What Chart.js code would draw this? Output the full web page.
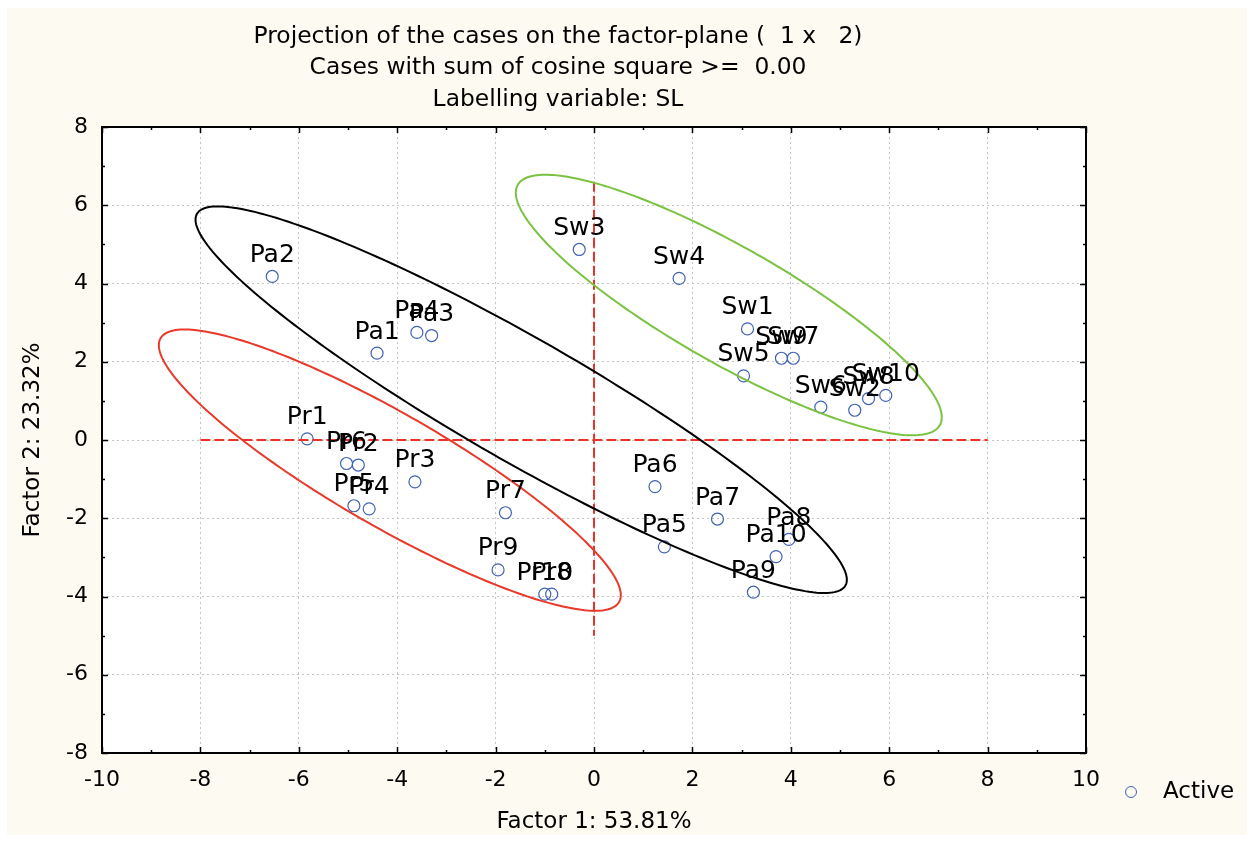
<!DOCTYPE html>
<html>
<head>
<meta charset="utf-8">
<script src="https://cdn.jsdelivr.net/npm/chart.js@4/dist/chart.umd.min.js"></script>
<style>
  html, body { margin: 0; padding: 0; background: #ffffff; }
  #wrap { width: 1252px; height: 841px; position: relative; }
</style>
</head>
<body>
<div id="wrap"><canvas id="chart" width="1252" height="841"></canvas></div>
<script>
const caseLabels = [
  "Pa1", "Pa2", "Pa3", "Pa4", "Pa5", "Pa6", "Pa7", "Pa8", "Pa9", "Pa10",
  "Pr1", "Pr2", "Pr3", "Pr4", "Pr5", "Pr6", "Pr7", "Pr8", "Pr9", "Pr10",
  "Sw1", "Sw2", "Sw3", "Sw4", "Sw5", "Sw6", "Sw7", "Sw8", "Sw9", "Sw10",
];
const factor1 = [
  -4.41, -6.54, -3.30, -3.60, 1.43, 1.24, 2.51, 3.96, 3.24, 3.70,
  -5.83, -4.79, -3.64, -4.57, -4.88, -5.03, -1.80, -0.86, -1.95, -1.00,
  3.12, 5.30, -0.30, 1.73, 3.04, 4.61, 4.05, 5.58, 3.81, 5.93,
];
const factor2 = [
  2.22, 4.18, 2.67, 2.75, -2.73, -1.19, -2.02, -2.54, -3.89, -2.98,
  0.03, -0.64, -1.07, -1.76, -1.68, -0.60, -1.86, -3.94, -3.32, -3.94,
  2.84, 0.76, 4.87, 4.13, 1.64, 0.84, 2.09, 1.06, 2.09, 1.14,
];

const titleLines = [
  "Projection of the cases on the factor-plane (  1 x   2)",
  "Cases with sum of cosine square >=  0.00",
  "Labelling variable: SL",
];
const xTitle = "Factor 1: 53.81%";
const yTitle = "Factor 2: 23.32%";
const legendLabel = "Active";

// dashed reference lines (x = 0 and y = 0)
const hLineX = [-8, 8];
const vLineY = [6.6, -5];

// group ellipses: centre, two conjugate half-axes (data units)
const ellipseCenters = [[-1.48, 1.03], [-4.15, -0.77], [2.74, 3.45]];
const ellipseAxisU = [[6.59, -4.75], [4.66, -3.37], [4.29, -3.07]];
const ellipseAxisV = [[-0.62, -1.36], [-0.57, -1.25], [-0.58, -1.29]];
const ellipseColors = ["#000000", "#e8392b", "#7cc242"];

const FONT = "'DejaVu Sans', 'Liberation Sans', Arial, sans-serif";
const pointColor = "#4262b4";

const points = caseLabels.map((c, i) => ({ x: factor1[i], y: factor2[i] }));

const decorPlugin = {
  id: "decor",
  beforeDraw(chart) {
    const ctx = chart.ctx;
    const a = chart.chartArea;
    ctx.save();
    ctx.fillStyle = "#fdfaf2";
    ctx.fillRect(7, 8, chart.width - 12, chart.height - 14);
    ctx.fillStyle = "#ffffff";
    ctx.fillRect(a.left, a.top, a.right - a.left, a.bottom - a.top);
    ctx.restore();
  },
  afterDatasetsDraw(chart) {
    const ctx = chart.ctx;
    const a = chart.chartArea;
    const xs = chart.scales.x;
    const ys = chart.scales.y;

    ctx.save();
    ctx.beginPath();
    ctx.rect(a.left, a.top, a.right - a.left, a.bottom - a.top);
    ctx.clip();
    ctx.lineWidth = 2;
    ellipseCenters.forEach((c, k) => {
      const u = ellipseAxisU[k];
      const v = ellipseAxisV[k];
      ctx.strokeStyle = ellipseColors[k];
      ctx.beginPath();
      for (let i = 0; i <= 240; i++) {
        const t = (i / 240) * Math.PI * 2;
        const px = xs.getPixelForValue(c[0] + u[0] * Math.cos(t) + v[0] * Math.sin(t));
        const py = ys.getPixelForValue(c[1] + u[1] * Math.cos(t) + v[1] * Math.sin(t));
        if (i === 0) ctx.moveTo(px, py);
        else ctx.lineTo(px, py);
      }
      ctx.closePath();
      ctx.stroke();
    });
    ctx.restore();

    // case labels
    const meta = chart.getDatasetMeta(2);
    ctx.save();
    ctx.font = "25px " + FONT;
    ctx.fillStyle = "#000000";
    ctx.textAlign = "center";
    ctx.textBaseline = "middle";
    meta.data.forEach((el, i) => {
      ctx.fillText(caseLabels[i], el.x, el.y - 21);
    });
    ctx.restore();
  },
  afterDraw(chart) {
    const ctx = chart.ctx;
    const a = chart.chartArea;
    const xs = chart.scales.x;
    const ys = chart.scales.y;

    ctx.save();
    ctx.strokeStyle = "#000000";
    ctx.lineWidth = 1.5;
    ctx.beginPath();
    for (let v = -10; v <= 10; v++) {
      const px = Math.round(xs.getPixelForValue(v)) + 0.5;
      const len = v % 2 === 0 ? 6 : 3;
      ctx.moveTo(px, a.bottom); ctx.lineTo(px, a.bottom - len);
      ctx.moveTo(px, a.top); ctx.lineTo(px, a.top + len);
    }
    for (let v = -8; v <= 8; v++) {
      const py = Math.round(ys.getPixelForValue(v)) + 0.5;
      const len = v % 2 === 0 ? 6 : 3;
      ctx.moveTo(a.left, py); ctx.lineTo(a.left + len, py);
      ctx.moveTo(a.right, py); ctx.lineTo(a.right - len, py);
    }
    ctx.stroke();
    ctx.lineWidth = 2;
    ctx.strokeRect(a.left, a.top, a.right - a.left, a.bottom - a.top);
    ctx.restore();

    // title
    ctx.save();
    ctx.font = "23.4px " + FONT;
    ctx.fillStyle = "#000000";
    ctx.textAlign = "center";
    ctx.textBaseline = "middle";
    titleLines.forEach((t, i) => ctx.fillText(t, 558, 36.5 + i * 31.5));
    ctx.restore();

    // legend
    ctx.save();
    ctx.strokeStyle = pointColor;
    ctx.lineWidth = 1;
    ctx.beginPath();
    ctx.arc(1131, 792, 5.5, 0, Math.PI * 2);
    ctx.stroke();
    ctx.font = "23px " + FONT;
    ctx.fillStyle = "#000000";
    ctx.textBaseline = "middle";
    ctx.fillText(legendLabel, 1163, 792);
    ctx.restore();
  },
};

new Chart(document.getElementById("chart"), {
  type: "scatter",
  data: {
    datasets: [
      {
        label: "h",
        data: hLineX.map((x) => ({ x: x, y: 0 })),
        showLine: true,
        borderColor: "#e8322a",
        borderWidth: 2,
        borderDash: [10, 4],
        pointRadius: 0,
      },
      {
        label: "v",
        data: vLineY.map((y) => ({ x: 0, y: y })),
        showLine: true,
        borderColor: "#e8322a",
        borderWidth: 2,
        borderDash: [10, 4],
        pointRadius: 0,
      },
      {
        label: legendLabel,
        data: points,
        pointRadius: 6,
        pointBorderWidth: 1.2,
        pointBorderColor: pointColor,
        pointBackgroundColor: "rgba(255,255,255,0)",
      },
    ],
  },
  options: {
    responsive: false,
    animation: false,
    layout: { padding: { left: 0, top: 127, right: 166, bottom: 0 } },
    plugins: {
      legend: { display: false },
      title: { display: false },
      tooltip: { enabled: false },
    },
    scales: {
      x: {
        type: "linear",
        min: -10,
        max: 10,
        ticks: {
          stepSize: 2,
          padding: 14,
          color: "#000000",
          font: { family: FONT, size: 22 },
        },
        grid: { color: "#c4c4c4", lineWidth: 1, drawTicks: false },
        border: { display: false, dash: [2, 3] },
        title: {
          display: true,
          text: xTitle,
          color: "#000000",
          font: { family: FONT, size: 23 },
          padding: { top: 0, bottom: 5 },
        },
        afterFit(scale) { scale.height = 88; },
      },
      y: {
        type: "linear",
        min: -8,
        max: 8,
        ticks: {
          stepSize: 2,
          padding: 14,
          color: "#000000",
          font: { family: FONT, size: 22 },
        },
        grid: { color: "#c4c4c4", lineWidth: 1, drawTicks: false },
        border: { display: false, dash: [2, 3] },
        title: {
          display: true,
          text: yTitle,
          color: "#000000",
          font: { family: FONT, size: 23 },
          padding: { top: 19, bottom: 0 },
        },
        afterFit(scale) { scale.width = 102; },
      },
    },
  },
  plugins: [decorPlugin],
});
</script>
</body>
</html>
